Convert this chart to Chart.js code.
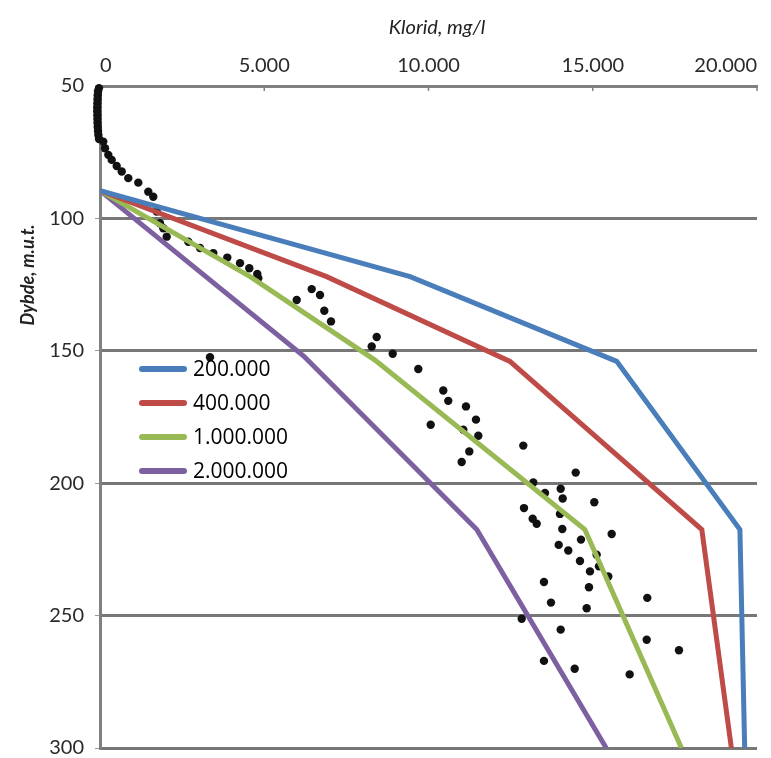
<!DOCTYPE html>
<html>
<head>
<meta charset="utf-8">
<script src="https://cdn.jsdelivr.net/npm/chart.js@4.4.1/dist/chart.umd.min.js"></script>
<style>
  html, body { margin: 0; padding: 0; background: #ffffff; }
  #wrap { width: 771px; height: 758px; position: relative; }
</style>
</head>
<body>
<div id="wrap"><canvas id="c" width="771" height="758"></canvas></div>
<script>
// ---- Data ----
const seriesLabels = ['200.000', '400.000', '1.000.000', '2.000.000'];
const seriesColors = ['#4A7EBB', '#BE4B48', '#98B954', '#7D60A0'];

// Model curves (chloride mg/l, depth m.u.t.)
const blueChloride   = [0, 9440, 15730, 19480, 19625];
const blueDepth      = [89.5, 122, 154, 217.5, 300];
const redChloride    = [0, 6900, 12480, 18320, 19220];
const redDepth       = [89.5, 122, 154, 217.5, 300];
const greenChloride  = [0, 4570, 8370, 14760, 17700];
const greenDepth     = [89.5, 122, 153.5, 217.5, 300];
const purpleChloride = [0, 6200, 11470, 15410];
const purpleDepth    = [89.5, 152, 217.5, 300];

// Observed samples
const obsChloride = [
  -30, -60, -70, -75, -80, -85, -85, -80, -80, -75, -70, -60, -50, -30,
  100, 152, 253, 356, 508, 661, 861, 1166, 1470, 1622,
  1726, 1826, 1927, 2030, 2688, 3044, 3449, 3875, 4262, 4545, 4788, 4818,
  5988, 6444, 6697, 6828, 7032, 8423, 8271, 8910, 9689, 3348,
  10450, 10602, 11141, 11445, 10067, 11059, 11516, 11242, 11010, 12885,
  14481, 13190, 13546, 14024, 14085, 15047, 12907, 13171, 13293, 14002,
  14073, 15576, 14642, 13963, 14255, 15119, 14611, 15190, 14916, 15473,
  13515, 14885, 16660, 13728, 14815, 12837, 14024, 16642, 17625, 13515,
  14450, 16124
];
const obsDepth = [
  50.8, 52, 53.5, 55, 56.5, 58, 59.5, 61, 62.5, 64, 65.5, 67, 68.5, 70,
  71.0, 73.5, 76.0, 77.9, 80.2, 82.3, 84.8, 86.5, 89.9, 91.8,
  97.4, 101.8, 103.7, 106.9, 108.8, 111.2, 113.1, 114.8, 116.9, 118.8, 121.0, 122.6,
  130.8, 126.7, 128.9, 134.9, 138.9, 144.8, 148.4, 151.1, 156.9, 152.4,
  165.0, 168.9, 171.0, 176.0, 177.9, 179.8, 182.1, 188.0, 192.0, 185.8,
  196.0, 199.7, 203.7, 202.1, 205.8, 207.2, 209.4, 213.4, 215.3, 211.6,
  217.3, 219.2, 221.3, 223.3, 225.4, 227.0, 229.4, 231.4, 233.3, 235.2,
  237.3, 239.3, 243.3, 245.1, 247.2, 251.2, 255.3, 259.1, 263.1, 267.1,
  270.1, 272.2
];

const xTickValues = [0, 5000, 10000, 15000, 20000];
const xTickLabels = ['0', '5.000', '10.000', '15.000', '20.000'];
const yTickValues = [50, 100, 150, 200, 250, 300];
const yTickLabels = ['50', '100', '150', '200', '250', '300'];
const xTitle = 'Klorid, mg/l';
const yTitle = 'Dybde, m.u.t.';

// ---- Build datasets ----
function pts(xs, ys) { return xs.map((x, i) => ({ x: x, y: ys[i] })); }
const curveX = [blueChloride, redChloride, greenChloride, purpleChloride];
const curveY = [blueDepth, redDepth, greenDepth, purpleDepth];

const datasets = seriesLabels.map((lab, i) => ({
  type: 'line',
  label: lab,
  data: pts(curveX[i], curveY[i]),
  borderColor: seriesColors[i],
  backgroundColor: seriesColors[i],
  borderWidth: 5,
  pointRadius: 0,
  tension: 0,
  fill: false,
  borderJoinStyle: 'miter',
  order: 1 + i
}));
datasets.push({
  type: 'scatter',
  label: 'obs',
  data: pts(obsChloride, obsDepth),
  backgroundColor: '#111111',
  borderWidth: 0,
  pointRadius: 4.2,
  clip: false,
  order: 10
});

const titlesAndLegend = {
  id: 'titlesAndLegend',
  afterDraw(chart) {
    const ctx = chart.ctx;
    ctx.save();
    // x title
    ctx.fillStyle = '#222';
    ctx.font = 'italic 20px Lato';
    ctx.textAlign = 'center';
    ctx.textBaseline = 'middle';
    ctx.fillText(xTitle, 437, 28);
    // y title
    ctx.save();
    ctx.translate(28, 275);
    ctx.rotate(-Math.PI / 2);
    ctx.font = 'italic bold 18px Lato';
    ctx.fillText(yTitle, 0, 0);
    ctx.restore();
    // top tick marks
    const xs = chart.scales.x;
    ctx.strokeStyle = '#808080';
    ctx.lineWidth = 1.5;
    xTickValues.forEach(v => {
      if (v === 0) return;
      const px = xs.getPixelForValue(v);
      ctx.beginPath(); ctx.moveTo(px, chart.chartArea.top - 1); ctx.lineTo(px, chart.chartArea.top + 5); ctx.stroke();
    });
    // legend
    const rows = [369, 403, 437, 471];
    ctx.font = '21px "Open Sans"';
    ctx.textAlign = 'left';
    ctx.textBaseline = 'middle';
    chart.data.datasets.forEach((ds, i) => {
      if (ds.type !== 'line') return;
      ctx.strokeStyle = ds.borderColor;
      ctx.lineWidth = 6;
      ctx.lineCap = 'round';
      ctx.beginPath(); ctx.moveTo(142, rows[i]); ctx.lineTo(184, rows[i]); ctx.stroke();
      ctx.fillStyle = '#000';
      ctx.fillText(ds.label, 193, rows[i] + 1);
    });
    ctx.restore();
  }
};

new Chart(document.getElementById('c'), {
  data: { datasets: datasets },
  options: {
    responsive: false,
    animation: false,
    layout: { padding: { left: 0, top: 0, right: 14, bottom: 10 } },
    plugins: { legend: { display: false }, tooltip: { enabled: false } },
    scales: {
      x: {
        type: 'linear',
        position: 'top',
        min: 0, max: 20000,
        afterBuildTicks: s => { s.ticks = xTickValues.map(v => ({ value: v })); },
        afterFit: s => { s.height = 86; s.paddingLeft = 0; s.paddingRight = 0; },
        ticks: {
          callback: (v) => xTickLabels[xTickValues.indexOf(v)],
          font: { family: 'Lato', size: 20 },
          color: '#2a2a2a',
          padding: 8,
          align: 'inner',
          maxRotation: 0
        },
        grid: { display: false, drawTicks: false },
        border: { display: true, color: '#808080', width: 3 }
      },
      y: {
        type: 'linear',
        reverse: true,
        min: 50, max: 300,
        afterBuildTicks: s => { s.ticks = yTickValues.map(v => ({ value: v })); },
        afterFit: s => { s.width = 100; s.paddingTop = 0; s.paddingBottom = 0; },
        ticks: {
          callback: (v) => yTickLabels[yTickValues.indexOf(v)],
          font: { family: 'Lato', size: 20 },
          color: '#2a2a2a',
          padding: 11
        },
        grid: { color: '#777777', lineWidth: 3, tickLength: 5, tickColor: '#999', tickWidth: 1 },
        border: { display: true, color: '#808080', width: 3 }
      }
    }
  },
  plugins: [titlesAndLegend]
});
</script>
</body>
</html>
